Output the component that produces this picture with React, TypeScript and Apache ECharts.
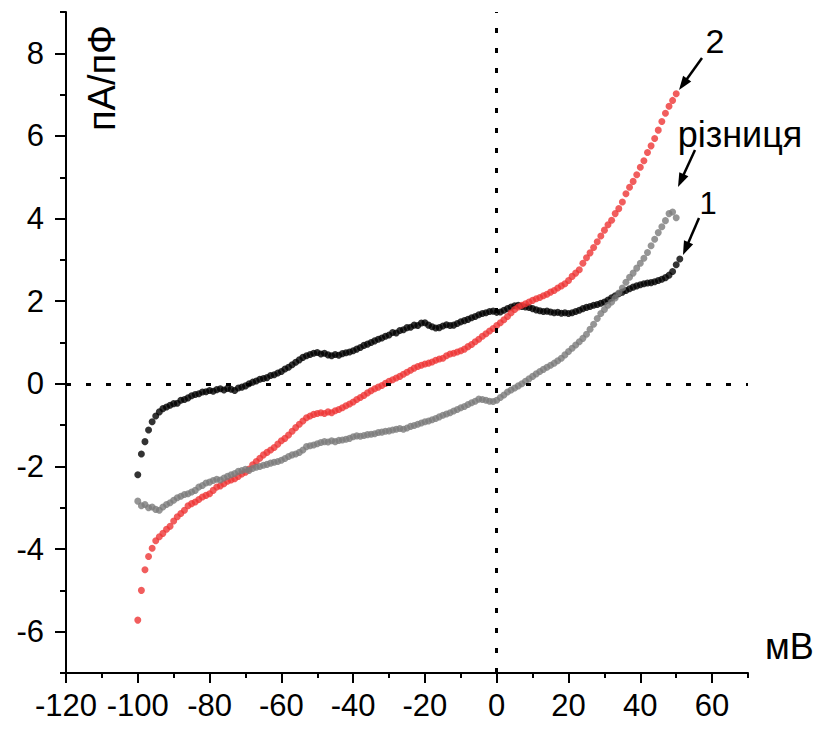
import React, { useEffect, useRef } from "react";
import * as echarts from "echarts";

// Voltage sweep (mV): first sample and step
const V_START = -100;
const V_STEP = 1;

// Curve 1 (black), pA/pF, from -100 mV to 51 mV
const curve1 = [
  -2.2, -1.7, -1.4, -1.12, -0.92, -0.78, -0.68, -0.6, -0.56, -0.52,
  -0.48, -0.47, -0.4, -0.38, -0.34, -0.29, -0.26, -0.24, -0.2, -0.19,
  -0.16, -0.18, -0.14, -0.12, -0.15, -0.11, -0.13, -0.16, -0.1, -0.08,
  -0.05, 0.0, 0.04, 0.07, 0.11, 0.13, 0.15, 0.2, 0.22, 0.26,
  0.3, 0.36, 0.4, 0.46, 0.52, 0.58, 0.64, 0.68, 0.71, 0.74,
  0.76, 0.72, 0.74, 0.7, 0.68, 0.71, 0.69, 0.73, 0.75, 0.77,
  0.8, 0.84, 0.88, 0.93, 0.96, 1.0, 1.04, 1.08, 1.11, 1.15,
  1.18, 1.24, 1.23, 1.29, 1.31, 1.36, 1.37, 1.42, 1.41, 1.47,
  1.48, 1.42, 1.38, 1.35, 1.36, 1.4, 1.43, 1.41, 1.42, 1.46,
  1.5, 1.53, 1.56, 1.6, 1.63, 1.67, 1.7, 1.72, 1.75, 1.76,
  1.73, 1.74, 1.78, 1.82, 1.86, 1.89, 1.9, 1.87, 1.86, 1.85,
  1.82, 1.79, 1.77, 1.75, 1.76, 1.74, 1.72, 1.73, 1.71, 1.72,
  1.7, 1.72, 1.75, 1.78, 1.82, 1.85, 1.87, 1.9, 1.92, 1.95,
  1.98, 2.03, 2.08, 2.13, 2.18, 2.22, 2.26, 2.3, 2.34, 2.37,
  2.4, 2.42, 2.44, 2.45, 2.47, 2.5, 2.53, 2.57, 2.63, 2.72,
  2.88, 3.02,
];

// Curve 2 (red), pA/pF, from -100 mV to 50 mV
const curve2 = [
  -5.72, -5.0, -4.5, -4.18, -3.98, -3.8, -3.7, -3.62, -3.52, -3.45,
  -3.32, -3.22, -3.14, -3.06, -2.95, -2.9, -2.86, -2.8, -2.74, -2.7,
  -2.66, -2.58, -2.5, -2.47, -2.42, -2.36, -2.33, -2.3, -2.24, -2.18,
  -2.14, -2.06, -1.96, -1.88, -1.8, -1.72, -1.66, -1.6, -1.54, -1.46,
  -1.38, -1.32, -1.24, -1.15, -1.06, -0.98, -0.9, -0.82, -0.78, -0.74,
  -0.72, -0.7, -0.72, -0.68, -0.7, -0.65, -0.62, -0.58, -0.53, -0.49,
  -0.44, -0.38, -0.33, -0.28, -0.22, -0.17, -0.12, -0.08, -0.04, 0.01,
  0.06, 0.1, 0.14, 0.18, 0.23, 0.28, 0.33, 0.38, 0.42, 0.45,
  0.48, 0.5, 0.53, 0.57, 0.6, 0.62, 0.68, 0.72, 0.74, 0.77,
  0.8, 0.84, 0.9, 0.95, 1.02, 1.08, 1.15, 1.21, 1.28, 1.34,
  1.41, 1.48, 1.55, 1.63, 1.72, 1.8, 1.86, 1.9, 1.94, 1.98,
  2.02, 2.06, 2.09, 2.13, 2.17, 2.22, 2.26, 2.32, 2.37, 2.42,
  2.5, 2.6, 2.68, 2.76, 2.92, 3.05, 3.17, 3.3, 3.44, 3.58,
  3.72, 3.85, 3.96, 4.12, 4.24, 4.4, 4.6, 4.76, 4.9, 5.06,
  5.24, 5.4, 5.6, 5.76, 5.94, 6.14, 6.35, 6.55, 6.72, 6.86,
  7.02,
];

// Difference "різниця" (grey), pA/pF, from -100 mV to 50 mV
const difference = [
  -2.84, -2.95, -2.92, -3.0, -2.98, -3.04, -3.06, -2.98, -2.92, -2.88,
  -2.82, -2.76, -2.72, -2.68, -2.66, -2.62, -2.58, -2.5, -2.46, -2.4,
  -2.38, -2.34, -2.31, -2.33, -2.28, -2.24, -2.2, -2.17, -2.12, -2.1,
  -2.07, -2.1, -2.05, -2.02, -2.0, -1.97, -1.95, -1.92, -1.9, -1.88,
  -1.85, -1.81, -1.76, -1.72, -1.7, -1.66, -1.6, -1.52, -1.5, -1.48,
  -1.45, -1.42, -1.4, -1.41, -1.38, -1.4, -1.37, -1.36, -1.34, -1.32,
  -1.28, -1.26, -1.27, -1.25, -1.23, -1.22, -1.21, -1.18, -1.17, -1.15,
  -1.14, -1.12, -1.1, -1.08, -1.1, -1.07, -1.03, -1.01, -0.98, -0.95,
  -0.92, -0.9, -0.87, -0.84, -0.8, -0.76, -0.73, -0.7, -0.66, -0.62,
  -0.58, -0.55, -0.5, -0.46, -0.42, -0.37, -0.38, -0.4, -0.42, -0.43,
  -0.4, -0.33, -0.27, -0.2, -0.15, -0.1, -0.05, 0.0, 0.06, 0.12,
  0.18, 0.24, 0.3, 0.35, 0.4, 0.45, 0.5, 0.56, 0.62, 0.7,
  0.78, 0.86, 0.94, 1.02, 1.1, 1.2, 1.32, 1.44, 1.58, 1.7,
  1.8, 1.9, 1.98, 2.08, 2.2, 2.32, 2.46, 2.58, 2.68, 2.8,
  2.92, 3.04, 3.18, 3.34, 3.5, 3.66, 3.8, 3.95, 4.12, 4.16,
  4.02,
];

// Axis ticks
const xMajorTicks = [-120, -100, -80, -60, -40, -20, 0, 20, 40, 60];
const yMajorTicks = [-6, -4, -2, 0, 2, 4, 6, 8];

const FONT = "Liberation Sans, Arial, sans-serif";

const toPairs = (ys: number[]) => ys.map((y, i) => [V_START + i * V_STEP, y]);

function arrowEls(x1: number, y1: number, x2: number, y2: number) {
  const dx = x2 - x1;
  const dy = y2 - y1;
  const L = Math.hypot(dx, dy);
  const ux = dx / L;
  const uy = dy / L;
  const nx = -uy;
  const ny = ux;
  const hl = 14;
  const hw = 5;
  const bx = x2 - ux * hl;
  const by = y2 - uy * hl;
  return [
    {
      type: "line",
      shape: { x1, y1, x2: bx + ux * 2, y2: by + uy * 2 },
      style: { stroke: "#000", lineWidth: 2.5 },
    },
    {
      type: "polygon",
      shape: {
        points: [
          [x2, y2],
          [bx + nx * hw, by + ny * hw],
          [bx - nx * hw, by - ny * hw],
        ],
      },
      style: { fill: "#000" },
    },
  ];
}

export default function App() {
  const ref = useRef<HTMLDivElement>(null);

  useEffect(() => {
    if (!ref.current) return;
    const chart = echarts.init(ref.current, null, { renderer: "svg" });

    const axisCommon = {
      type: "value",
      splitLine: { show: false },
    };

    const scatterCommon = {
      type: "scatter",
      xAxisIndex: 0,
      yAxisIndex: 0,
      symbol: "circle",
      symbolSize: 7,
    };

    chart.setOption({
      animation: false,
      backgroundColor: "#fff",
      grid: {
        left: 66,
        right: 77,
        top: 12,
        bottom: 56,
        containLabel: false,
        outerBoundsMode: "none",
      },
      xAxis: [
        {
          ...axisCommon,
          min: -120,
          max: 70,
          interval: 10,
          position: "bottom",
          axisLine: { show: true, onZero: false, lineStyle: { color: "#000", width: 2 } },
          axisTick: { show: true, inside: false, length: 5, lineStyle: { color: "#000", width: 2 } },
          axisLabel: {
            show: true,
            formatter: (v: number) => (v % 20 === 0 && v <= 60 ? String(v) : ""),
            fontSize: 31,
            color: "#000",
            fontFamily: FONT,
            margin: 17,
          },
        },
        {
          ...axisCommon,
          min: -120,
          max: 70,
          interval: 10,
          position: "bottom",
          axisLine: { show: false, onZero: false },
          axisTick: {
            show: true,
            inside: false,
            length: 10,
            customValues: xMajorTicks,
            lineStyle: { color: "#000", width: 2 },
          },
          axisLabel: { show: false },
        },
      ],
      yAxis: [
        {
          ...axisCommon,
          min: -7,
          max: 9,
          interval: 1,
          position: "left",
          axisLine: { show: true, onZero: false, lineStyle: { color: "#000", width: 2 } },
          axisTick: { show: true, inside: false, length: 6, lineStyle: { color: "#000", width: 2 } },
          axisLabel: {
            show: true,
            formatter: (v: number) => (v % 2 === 0 && v <= 8 && v >= -6 ? String(v) : ""),
            fontSize: 31,
            color: "#000",
            fontFamily: FONT,
            margin: 22,
          },
        },
        {
          ...axisCommon,
          min: -7,
          max: 9,
          interval: 1,
          position: "left",
          axisLine: { show: false, onZero: false },
          axisTick: {
            show: true,
            inside: false,
            length: 11,
            customValues: yMajorTicks,
            lineStyle: { color: "#000", width: 2 },
          },
          axisLabel: { show: false },
        },
      ],
      series: [
        {
          ...scatterCommon,
          name: "1",
          data: toPairs(curve1),
          itemStyle: { color: "#000000" },
          markLine: {
            silent: true,
            symbol: "none",
            label: { show: false },
            lineStyle: { color: "#000", width: 3, type: [5, 15] },
            data: [{ xAxis: 0 }, { yAxis: 0 }],
          },
        },
        {
          ...scatterCommon,
          name: "2",
          data: toPairs(curve2),
          itemStyle: { color: "#ee3535" },
        },
        {
          ...scatterCommon,
          name: "різниця",
          data: toPairs(difference),
          itemStyle: { color: "#7a7a7a" },
        },
      ],
      graphic: [
        {
          type: "text",
          x: 102,
          y: 78,
          rotation: Math.PI / 2,
          style: {
            text: "пА/пФ",
            fontSize: 38,
            fontFamily: FONT,
            fill: "#000",
            align: "center",
            verticalAlign: "middle",
          },
        },
        {
          type: "text",
          x: 765,
          y: 646,
          style: {
            text: "мВ",
            fontSize: 36,
            fontFamily: FONT,
            fill: "#000",
            align: "left",
            verticalAlign: "middle",
          },
        },
        {
          type: "text",
          x: 715,
          y: 41,
          style: { text: "2", fontSize: 34, fontFamily: FONT, fill: "#000", align: "center", verticalAlign: "middle" },
        },
        {
          type: "text",
          x: 740,
          y: 134,
          style: { text: "різниця", fontSize: 36, fontFamily: FONT, fill: "#000", align: "center", verticalAlign: "middle" },
        },
        {
          type: "text",
          x: 708,
          y: 203,
          style: { text: "1", fontSize: 31, fontFamily: FONT, fill: "#000", align: "center", verticalAlign: "middle" },
        },
        ...arrowEls(702, 58, 679, 90),
        ...arrowEls(695, 150, 678, 187),
        ...arrowEls(699, 218, 683, 255),
      ],
    });

    return () => chart.dispose();
  }, []);

  return (
    <div
      ref={ref}
      style={{ position: "fixed", left: 0, top: 0, width: 825, height: 729, background: "#fff" }}
    />
  );
}
